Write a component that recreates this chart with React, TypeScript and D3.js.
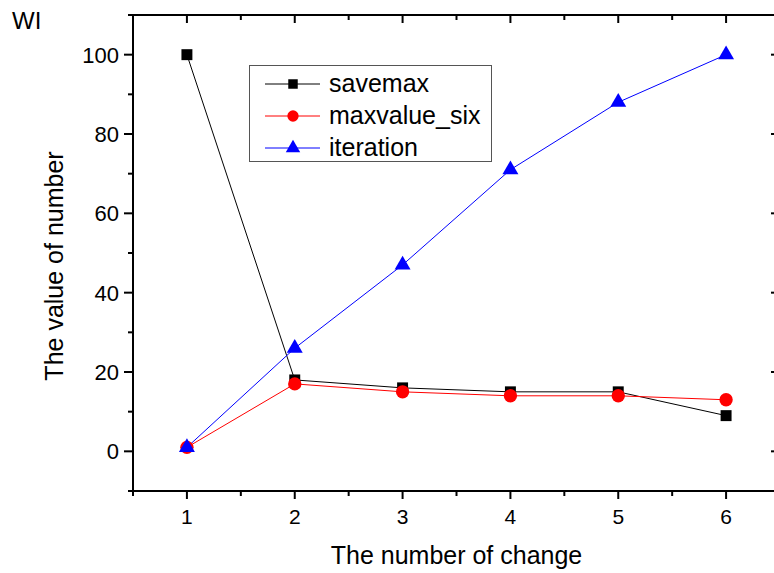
import React, {useEffect, useRef} from 'react';
import * as d3 from 'd3';

// data
const changes = [1, 2, 3, 4, 5, 6];
const savemax = [100, 18, 16, 15, 15, 9];
const maxvalueSix = [1, 17, 15, 14, 14, 13];
const iteration = [1, 26, 47, 71, 88, 100];
const seriesNames = ['savemax', 'maxvalue_six', 'iteration'];
const seriesColors = ['#000000', '#ff0000', '#0000ff'];
const yTicks = [0, 20, 40, 60, 80, 100];
const yMinorTicks = [-10, 10, 30, 50, 70, 90, 110];
const xMinorTicks = [0.5, 1.5, 2.5, 3.5, 4.5, 5.5, 6.5];

const W = 774;
const H = 573;
const FONT = '"Liberation Sans", Arial, sans-serif';

const App = () => {
  const ref = useRef<SVGSVGElement>(null);

  useEffect(() => {
    const svg = d3.select(ref.current);
    svg.selectAll('*').remove();

    const left = 133, right = 780, top = 15, bottom = 491;
    const x = d3.scaleLinear().domain([0.5, 6.5]).range([left, right]);
    const y = d3.scaleLinear().domain([-10, 110]).range([bottom, top]);

    const g = svg.append('g');

    // frame
    g.append('rect')
      .attr('x', left).attr('y', top)
      .attr('width', right - left).attr('height', bottom - top)
      .attr('fill', 'none').attr('stroke', '#000').attr('stroke-width', 2);

    const tickLine = (x1: number, y1: number, x2: number, y2: number) =>
      g.append('line')
        .attr('x1', x1).attr('y1', y1).attr('x2', x2).attr('y2', y2)
        .attr('stroke', '#000').attr('stroke-width', 2);

    // x ticks: outward on bottom, inward on top
    changes.forEach(v => {
      tickLine(x(v), bottom, x(v), bottom + 8);
      tickLine(x(v), top, x(v), top + 8);
    });
    xMinorTicks.forEach(v => {
      tickLine(x(v), bottom, x(v), bottom + 5);
      tickLine(x(v), top, x(v), top + 5);
    });
    // y ticks: outward on left, inward on right
    yTicks.forEach(v => {
      tickLine(left - 9, y(v), left, y(v));
      tickLine(right - 9, y(v), right, y(v));
    });
    yMinorTicks.forEach(v => {
      tickLine(left - 5, y(v), left, y(v));
      tickLine(right - 5, y(v), right, y(v));
    });

    // tick labels
    g.append('g').selectAll('text')
      .data(changes).enter().append('text')
      .attr('x', d => x(d)).attr('y', 524)
      .attr('text-anchor', 'middle')
      .style('font-family', FONT).style('font-size', '21px')
      .text(d => d);
    g.append('g').selectAll('text')
      .data(yTicks).enter().append('text')
      .attr('x', 119).attr('y', d => y(d))
      .attr('dy', '0.36em')
      .attr('text-anchor', 'end')
      .style('font-family', FONT).style('font-size', '22px')
      .text(d => d);

    // axis titles
    g.append('text')
      .attr('x', (left + right) / 2).attr('y', 564)
      .attr('text-anchor', 'middle')
      .style('font-family', FONT).style('font-size', '25px')
      .text('The number of change');
    g.append('text')
      .attr('transform', 'translate(63,266) rotate(-90)')
      .attr('text-anchor', 'middle')
      .style('font-family', FONT).style('font-size', '25px')
      .text('The value of number');
    g.append('text')
      .attr('x', 12).attr('y', 29)
      .style('font-family', FONT).style('font-size', '24px')
      .text('WI');

    // series
    const allSeries = [savemax, maxvalueSix, iteration];
    const line = d3.line<number>()
      .x((d, i) => x(changes[i]))
      .y(d => y(d));
    const symbols = [d3.symbolSquare, d3.symbolCircle, d3.symbolTriangle];
    const symbolSizes = [120, 140, 110];

    allSeries.forEach((vals, k) => {
      g.append('path')
        .attr('d', line(vals))
        .attr('fill', 'none')
        .attr('stroke', seriesColors[k])
        .attr('stroke-width', 1);
    });
    allSeries.forEach((vals, k) => {
      const sym = d3.symbol().type(symbols[k]).size(symbolSizes[k]);
      g.append('g').selectAll('path')
        .data(vals).enter().append('path')
        .attr('d', sym)
        .attr('transform', (d, i) => `translate(${x(changes[i])},${y(d)})`)
        .attr('fill', seriesColors[k]);
    });

    // legend
    const lg = g.append('g');
    lg.append('rect')
      .attr('x', 249.5).attr('y', 65.5)
      .attr('width', 242).attr('height', 96)
      .attr('fill', '#fff').attr('stroke', '#555').attr('stroke-width', 1);
    const rowY = [84, 116, 148];
    const legendSizes = [90, 100, 90];
    seriesNames.forEach((name, k) => {
      lg.append('line')
        .attr('x1', 265).attr('x2', 320)
        .attr('y1', rowY[k]).attr('y2', rowY[k])
        .attr('stroke', seriesColors[k]).attr('stroke-width', 1);
      lg.append('path')
        .attr('d', d3.symbol().type(symbols[k]).size(legendSizes[k]))
        .attr('transform', `translate(293,${rowY[k]})`)
        .attr('fill', seriesColors[k]);
      lg.append('text')
        .attr('x', 329).attr('y', rowY[k])
        .attr('dy', '0.33em')
        .style('font-family', FONT).style('font-size', '25px')
        .text(name);
    });
  }, []);

  return (
    <svg ref={ref} width={W} height={H}
         style={{position: 'absolute', left: 0, top: 0, background: '#fff'}}/>
  );
};

export default App;
